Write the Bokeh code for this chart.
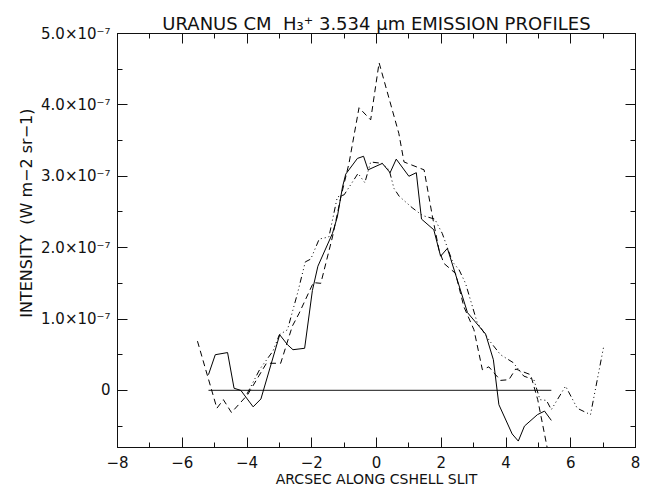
import numpy as np
from bokeh.plotting import figure
from bokeh.models import Range1d, LinearAxis, FixedTicker, CustomJSTickFormatter, Title
from bokeh.embed import file_html
from bokeh.resources import INLINE

# ---- data (intensity in units of 1e-7 W m-2 sr-1) ----
solid_x = [-5.19, -4.98, -4.60, -4.40, -4.19, -3.81, -3.57, -2.99, -2.75, -2.58, -2.22,
           -1.98, -1.81, -1.36, -1.21, -1.05, -0.95, -0.59, -0.40, -0.26, 0.18, 0.42,
           0.61, 1.00, 1.23, 1.39, 1.77, 1.98, 2.19, 2.81, 3.37, 3.61, 3.78, 4.19, 4.38,
           4.57, 4.97, 5.19, 5.40]
solid_y = [0.22, 0.50, 0.53, 0.03, 0.00, -0.23, -0.12, 0.78, 0.64, 0.57, 0.59,
           1.40, 1.74, 2.20, 2.43, 2.85, 3.03, 3.25, 3.28, 3.09, 3.18, 3.05,
           3.24, 3.00, 3.05, 2.40, 2.25, 1.88, 1.99, 1.09, 0.79, 0.43, -0.20, -0.61, -0.71,
           -0.50, -0.34, -0.29, -0.42]

dash_x = [-5.53, -4.93, -4.73, -4.48, -3.98, -3.40, -2.96, -2.60, -2.39, -1.95, -1.72,
          -1.36, -1.10, -0.85, -0.54, -0.18, 0.08, 0.69, 0.85, 1.47, 1.73, 1.93, 2.08,
          2.44, 2.70, 3.01, 3.27, 3.47, 3.83, 4.09, 4.30, 4.76, 4.98, 5.28]
dash_y = [0.69, -0.25, -0.13, -0.31, -0.06, 0.38, 0.38, 0.90, 1.08, 1.51, 1.50,
          2.15, 2.71, 3.18, 3.96, 3.79, 4.59, 3.60, 3.20, 3.09, 2.43, 1.97, 1.78,
          1.64, 1.17, 0.85, 0.29, 0.33, 0.14, 0.15, 0.30, 0.22, -0.13, -0.82]

dd_x = [-4.00, -3.60, -3.20, -3.00, -2.75, -2.44, -2.20, -2.03, -1.77, -1.47, -1.21,
        -1.00, -0.57, -0.36, -0.18, 0.18, 0.39, 0.54, 0.70, 1.10, 1.42, 1.80, 2.03,
        2.35, 2.55, 2.75, 3.11, 3.50, 3.83, 4.22, 4.55, 4.86, 5.05, 5.25, 5.40, 5.84,
        6.20, 6.61, 7.02]
dd_y = [-0.05, 0.30, 0.55, 0.78, 0.85, 1.36, 1.80, 1.84, 2.12, 2.15, 2.71,
        2.74, 3.04, 2.91, 3.20, 3.18, 3.09, 2.83, 2.72, 2.56, 2.45, 2.40, 2.20,
        1.80, 1.69, 1.50, 0.95, 0.69, 0.50, 0.39, 0.20, 0.15, -0.13, -0.14, -0.27, 0.06,
        -0.25, -0.34, 0.62]

zero_x = [solid_x[0], solid_x[-1]]
zero_y = [0.0, 0.0]

x_major = [-8, -6, -4, -2, 0, 2, 4, 6, 8]
x_minor = [-7, -5, -3, -1, 1, 3, 5, 7]
y_major = [0, 1, 2, 3, 4, 5]
y_minor = [-0.5, 0.5, 1.5, 2.5, 3.5, 4.5]

title_text = "URANUS CM\u00a0\u00a0H\u2083\u207a 3.534 \u03bcm EMISSION PROFILES"
x_label = "ARCSEC ALONG CSHELL SLIT"
y_label = "INTENSITY\u00a0\u00a0(W m\u22122 sr\u22121)"

FONT = "DejaVu Sans"
INK = "#111111"

p = figure(width=647, height=489, output_backend="svg", toolbar_location=None,
           x_range=Range1d(-8, 8), y_range=Range1d(-0.8, 5.0),
           min_border_left=117, min_border_right=12, min_border_top=33, min_border_bottom=4,
           background_fill_color="white", border_fill_color="white")
p.grid.visible = False
p.outline_line_color = INK
p.outline_line_width = 1

p.title.text = title_text
p.title.align = "center"
p.title.text_font = FONT
p.title.text_font_size = "18px"
p.title.text_font_style = "normal"
p.title.text_color = INK
p.title.standoff = 0
p.title.offset = 0

xt = FixedTicker(ticks=x_major, minor_ticks=x_minor)
yt = FixedTicker(ticks=y_major, minor_ticks=y_minor)
yfmt = CustomJSTickFormatter(code="return tick == 0 ? '0' : tick.toFixed(1) + '\u00d710\u207b\u2077';")
blank = CustomJSTickFormatter(code="return '';")

def style(ax):
    ax.axis_line_color = INK
    ax.major_tick_line_color = INK
    ax.minor_tick_line_color = INK
    ax.major_tick_in = 10
    ax.major_tick_out = 0
    ax.minor_tick_in = 5
    ax.minor_tick_out = 0
    ax.major_label_text_font = FONT
    ax.major_label_text_color = INK
    ax.major_label_text_font_size = "15px"
    ax.axis_label_text_font = FONT
    ax.axis_label_text_font_style = "normal"
    ax.axis_label_text_color = INK
    ax.axis_label_text_font_size = "14px"

xa = p.xaxis[0]
style(xa)
xa.ticker = xt
xa.major_label_standoff = 8
xa.axis_label = x_label
xa.axis_label_standoff = 0

ya = p.yaxis[0]
style(ya)
ya.ticker = yt
ya.formatter = yfmt
ya.major_label_standoff = 7

ytitle = Title(text=y_label, align="right", offset=75, standoff=6,
               text_font=FONT, text_font_size="16px", text_font_style="normal",
               text_color=INK)
p.add_layout(ytitle, "left")

top = LinearAxis(ticker=xt, formatter=blank)
style(top)
top.major_label_standoff = 0
p.add_layout(top, "above")
right = LinearAxis(ticker=yt, formatter=blank)
style(right)
right.major_label_standoff = 0
p.add_layout(right, "right")

p.line(zero_x, zero_y, line_color="#444444", line_width=1.2)
p.line(solid_x, solid_y, line_color="black", line_width=1)
p.line(dash_x, dash_y, line_color="black", line_width=1, line_dash="6 4")
p.line(dd_x, dd_y, line_color="black", line_width=1, line_dash="6 3 1 3 1 3 1 3")

open("out.html", "w").write(file_html(p, INLINE))
